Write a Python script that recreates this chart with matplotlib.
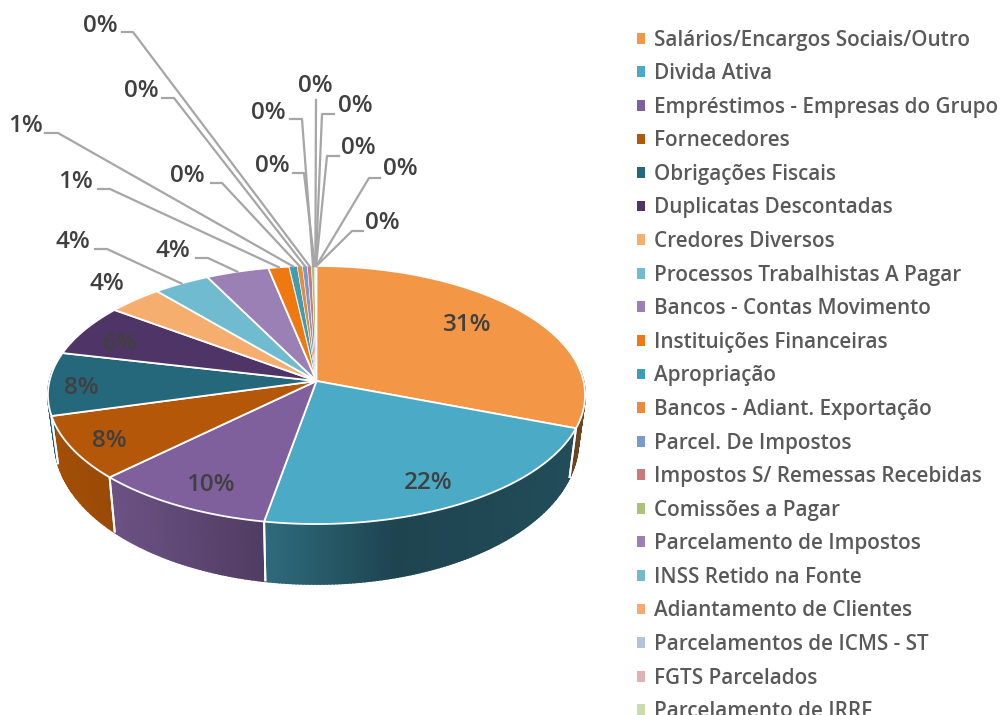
import numpy as np
import matplotlib
matplotlib.use("Agg")
import matplotlib.pyplot as plt
from matplotlib.patches import Patch
from matplotlib.colors import to_rgb

categories = ["Salários/Encargos Sociais/Outro", "Divida Ativa", "Empréstimos - Empresas do Grupo",
              "Fornecedores", "Obrigações Fiscais", "Duplicatas Descontadas", "Credores Diversos",
              "Processos Trabalhistas A Pagar", "Bancos - Contas Movimento", "Instituições Financeiras",
              "Apropriação", "Bancos - Adiant. Exportação", "Parcel. De Impostos",
              "Impostos S/ Remessas Recebidas", "Comissões a Pagar", "Parcelamento de Impostos",
              "INSS Retido na Fonte", "Adiantamento de Clientes", "Parcelamentos de ICMS - ST",
              "FGTS Parcelados", "Parcelamento de IRRF"]
values = [30.8, 22.0, 9.9, 8.0, 7.9, 6.49, 3.7, 3.8, 4.2, 1.4, 0.52, 0.35, 0.33, 0.27, 0.2,
          0.04, 0.03, 0.02, 0.02, 0.01, 0.01]
colors = ["#F39646", "#4BAAC6", "#7F609C", "#B55708", "#25677B", "#4F3567", "#F6AE6E", "#70BBD0",
          "#9A80B5", "#F07810", "#3E9DB6", "#E98B3B", "#7A9BC9", "#C97A7A", "#A9C47A", "#9A80B5",
          "#74B9CE", "#F8A871", "#B3C3DE", "#E0B3B3", "#CBDAAF"]

# label layout (pixel anchor of each percentage label)
label_pos = [(467, 325), (428, 483), (210, 485), (109, 441), (81, 388), (120, 344), (107, 284),
             (73, 242), (173, 251), (76, 182), (25, 126), (187, 176), (141, 91), (100, 26),
             (268, 113), (272, 166), (315, 86), (355, 106), (358, 148), (400, 169), (382, 223)]
# leader: label side start and elbow; None = no leader
leaders = [None] * 7 + [((95, 249), (107, 249)), ((196, 258), (208, 258)), ((98, 189), (110, 189)),
                        ((45, 133), (58, 133)), ((211, 183), (222, 183)), ((162, 98), (174, 98)),
                        ((122, 32), (133, 32)), ((290, 119), (302, 119)), ((293, 173), (304, 173)),
                        ((316, 100), (316, 100)), ((334, 114), (322, 114)), ((339, 156), (327, 156)),
                        ((380, 178), (369, 178)), ((363, 231), (352, 231))]

TXT = "#404040"
LEG = "#595959"
FONT = "Open Sans"
CX, CY, K, A, B = 316.5, 381.0, 0.1085, 127.5, 267.0


def rim(theta):
    x, y = np.sin(theta), np.cos(theta)
    d = 1 + K * y
    return CX + B * x / d, CY - A * y / d


def base(theta):
    px, py = rim(theta)
    return CX + (px - CX) * 0.975, py + 44 - 16 * np.cos(theta)


def shade(theta):
    u = rim(theta)[0] - CX
    return np.interp(u, [-265, -206, -53, 80, 262], [0.9, 0.85, 0.63, 0.4, 0.45])


fig = plt.figure(figsize=(10, 7.15), dpi=100, facecolor="white")
ax = fig.add_axes([0, 0, 1, 1])
ax.set_xlim(0, 1000)
ax.set_ylim(715, 0)
ax.axis("off")

vals = np.array(values)
edges = np.radians(np.concatenate([[0], np.cumsum(vals)]) / vals.sum() * 360)

# side wall
for i, c in enumerate(colors):
    t0, t1 = edges[i], edges[i + 1]
    if t1 < np.radians(85) or t0 > np.radians(275):
        continue
    t0c, t1c = max(t0, np.radians(85)), min(t1, np.radians(275))
    grid = np.linspace(t0c, t1c, max(3, int(np.degrees(t1c - t0c) * 1.5)))
    for a, b in zip(grid[:-1], grid[1:]):
        col = np.array(to_rgb(c)) * shade((a + b) / 2)
        xs = [rim(a)[0], rim(b)[0], base(b)[0], base(a)[0]]
        ys = [rim(a)[1], rim(b)[1], base(b)[1], base(a)[1]]
        ax.fill(xs, ys, facecolor=col, edgecolor=col, lw=1.2, zorder=1)
    for t in (t0, t1):
        if np.radians(100) < t < np.radians(260):
            ax.plot([rim(t)[0], base(t)[0]], [rim(t)[1], base(t)[1]], color="white", lw=1.4,
                    zorder=2, solid_capstyle="butt")

# top face
for i, c in enumerate(colors):
    t = np.linspace(edges[i], edges[i + 1], max(3, int(np.degrees(edges[i + 1] - edges[i]) * 2)))
    px, py = rim(t)
    ax.fill(np.r_[CX, px], np.r_[CY, py], facecolor=c, edgecolor="white",
            lw=1.3 if values[i] > 1 else 0.35, zorder=3, joinstyle="round")

# percentage labels
mids = (edges[:-1] + edges[1:]) / 2
for i, (pos, val) in enumerate(zip(label_pos, values)):
    ax.text(pos[0], pos[1], f"{val:.0f}%", ha="center", va="center", color=TXT, fontsize=17.5,
            family=FONT, fontweight="semibold", zorder=6)
    if leaders[i] is not None:
        (sx, sy), (ex, ey) = leaders[i]
        tx, ty = rim(mids[i])
        ax.plot([sx, ex, tx], [sy, ey, ty], color="#A6A6A6", lw=1.6, zorder=5,
                solid_joinstyle="round")

# legend
handles = [Patch(facecolor=c, edgecolor="none") for c in colors]
ax.legend(handles, categories, loc="upper left", bbox_to_anchor=(0.6365, 0.9587), frameon=False,
          borderpad=0, borderaxespad=0, ncol=1, labelspacing=0.61, handlelength=0.43,
          handleheight=0.43, handletextpad=0.43,
          prop={"family": FONT, "size": 14.85, "weight": "semibold"}, labelcolor=LEG)

fig.savefig("out.png", dpi=100)
